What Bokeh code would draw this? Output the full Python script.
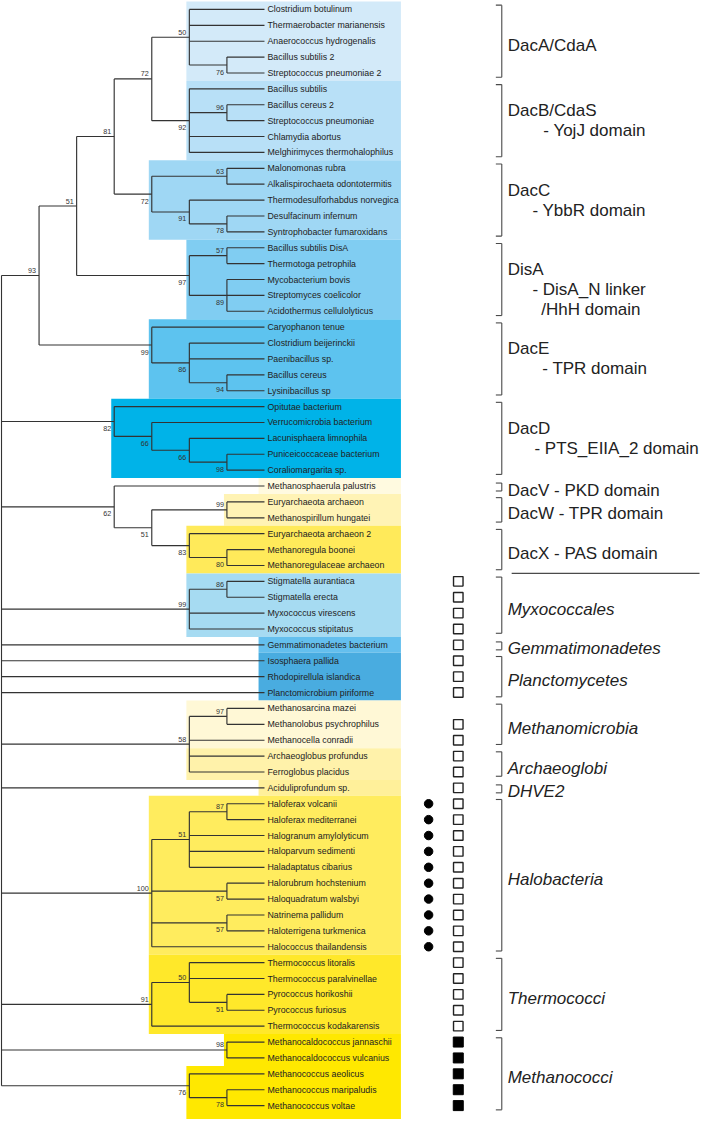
from bokeh.plotting import figure
from bokeh.models import Range1d, ColumnDataSource
from bokeh.core.properties import value
from bokeh.embed import file_html
from bokeh.resources import INLINE

# ---------------- data ----------------
leaf_names = [
    "Clostridium botulinum", "Thermaerobacter marianensis", "Anaerococcus hydrogenalis",
    "Bacillus subtilis 2", "Streptococcus pneumoniae 2",
    "Bacillus subtilis", "Bacillus cereus 2", "Streptococcus pneumoniae", "Chlamydia abortus",
    "Melghirimyces thermohalophilus",
    "Malonomonas rubra", "Alkalispirochaeta odontotermitis", "Thermodesulforhabdus norvegica",
    "Desulfacinum infernum", "Syntrophobacter fumaroxidans",
    "Bacillus subtilis DisA", "Thermotoga petrophila", "Mycobacterium bovis",
    "Streptomyces coelicolor", "Acidothermus cellulolyticus",
    "Caryophanon tenue", "Clostridium beijerinckii", "Paenibacillus sp.", "Bacillus cereus",
    "Lysinibacillus sp",
    "Opitutae bacterium", "Verrucomicrobia bacterium", "Lacunisphaera limnophila",
    "Puniceicoccaceae bacterium", "Coraliomargarita sp.",
    "Methanosphaerula palustris", "Euryarchaeota archaeon", "Methanospirillum hungatei",
    "Euryarchaeota archaeon 2", "Methanoregula boonei", "Methanoregulaceae archaeon",
    "Stigmatella aurantiaca", "Stigmatella erecta", "Myxococcus virescens", "Myxococcus stipitatus",
    "Gemmatimonadetes bacterium", "Isosphaera pallida", "Rhodopirellula islandica",
    "Planctomicrobium piriforme",
    "Methanosarcina mazei", "Methanolobus psychrophilus", "Methanocella conradii",
    "Archaeoglobus profundus", "Ferroglobus placidus",
    "Aciduliprofundum sp.",
    "Haloferax volcanii", "Haloferax mediterranei", "Halogranum amylolyticum",
    "Haloparvum sedimenti", "Haladaptatus cibarius", "Halorubrum hochstenium",
    "Haloquadratum walsbyi", "Natrinema pallidum", "Haloterrigena turkmenica",
    "Halococcus thailandensis",
    "Thermococcus litoralis", "Thermococcus paralvinellae", "Pyrococcus horikoshii",
    "Pyrococcus furiosus", "Thermococcus kodakarensis",
    "Methanocaldococcus jannaschii", "Methanocaldococcus vulcanius", "Methanococcus aeolicus",
    "Methanococcus maripaludis", "Methanococcus voltae",
]

# internal nodes: children (leaf index or node id)
node_children = {
    "root": ["n93", "dacD", "n62", "myxo", 40, 41, 42, 43, "n58", 49, "halo", "thermo", "mcaldo", "mcocc"],
    "n93": ["n51", "dacE"], "n51": ["n81", "disA"], "n81": ["n72ab", "dacC"],
    "n72ab": ["dacA", "dacB"],
    "dacA": [0, 1, 2, "n76a"], "n76a": [3, 4],
    "dacB": [5, "n96", 8, 9], "n96": [6, 7],
    "dacC": ["n63", "n91c"], "n63": [10, 11], "n91c": [12, "n78c"], "n78c": [13, 14],
    "disA": ["n57d", "n89"], "n57d": [15, 16], "n89": [17, 18, 19],
    "dacE": [20, "n86e"], "n86e": [21, 22, "n94"], "n94": [23, 24],
    "dacD": [25, "n66a"], "n66a": [26, "n66b"], "n66b": [27, "n98d"], "n98d": [28, 29],
    "n62": [30, "n51w"], "n51w": ["n99w", "n83"], "n99w": [31, 32], "n83": [33, "n80"], "n80": [34, 35],
    "myxo": ["n86m", 38, 39], "n86m": [36, 37],
    "n58": ["n97m", 46, 47, 48], "n97m": [44, 45],
    "halo": ["n51h", "n57h1", "n57h2", 59], "n51h": ["n87", 52, 53, 54], "n87": [50, 51],
    "n57h1": [55, 56], "n57h2": [57, 58],
    "thermo": ["n50t", 64], "n50t": [60, 61, "n51t"], "n51t": [62, 63],
    "mcaldo": [65, 66],
    "mcocc": [67, "n78m"], "n78m": [68, 69],
}

node_support = {
    "n93": 93, "n51": 51, "n81": 81, "n72ab": 72, "dacA": 50, "n76a": 76, "dacB": 92, "n96": 96,
    "dacC": 72, "n63": 63, "n91c": 91, "n78c": 78, "disA": 97, "n57d": 57, "n89": 89,
    "dacE": 99, "n86e": 86, "n94": 94, "dacD": 82, "n66a": 66, "n66b": 66, "n98d": 98,
    "n62": 62, "n51w": 51, "n99w": 99, "n83": 83, "n80": 80, "myxo": 99, "n86m": 86,
    "n58": 58, "n97m": 97, "halo": 100, "n51h": 51, "n87": 87, "n57h1": 57, "n57h2": 57,
    "thermo": 91, "n50t": 50, "n51t": 51, "mcaldo": 98, "mcocc": 76, "n78m": 78,
}

support_below = ["n76a", "dacB", "dacC", "n91c", "n78c", "disA", "n89", "dacE", "n86e", "n94",
                 "dacD", "n66a", "n66b", "n98d", "n62", "n51w", "n83", "n80", "n57h1", "n57h2",
                 "n51t", "mcocc", "n78m"]

# coloured clade boxes
box_first = [0, 5, 10, 15, 20, 25, 30, 31, 33, 36, 40, 41, 44, 47, 49, 50, 60, 65, 67]
box_last = [4, 9, 14, 19, 24, 29, 30, 32, 35, 39, 40, 43, 46, 48, 49, 59, 64, 66, 69]
box_anchor = ["dacA", "dacB", "dacC", "disA", "dacE", "dacD", None, "n99w", "n83", "myxo",
              None, None, "n58", "n58", None, "halo", "thermo", "mcaldo", "mcocc"]
box_colors = ["#d3eaf9", "#b8e0f7", "#9fd7f4", "#80cdf2", "#5dc3ef", "#00b3e8",
              "#fffae0", "#fff3b5", "#ffea5a", "#a6dbf2", "#64bfee", "#49ace0",
              "#fff8d6", "#fff2aa", "#fff09a", "#ffec5e", "#ffe82a", "#ffe800", "#ffe800"]

# right-hand group labels
group_names = ["DacA/CdaA", "DacB/CdaS", "DacC", "DisA", "DacE", "DacD",
               "DacV - PKD domain", "DacW - TPR domain", "DacX - PAS domain",
               "Myxococcales", "Gemmatimonadetes", "Planctomycetes", "Methanomicrobia",
               "Archaeoglobi", "DHVE2", "Halobacteria", "Thermococci", "Methanococci"]
group_sublines = [[], ["- YojJ domain"], ["- YbbR domain"], ["- DisA_N linker", "/HhH domain"],
                  ["- TPR domain"], ["- PTS_EIIA_2 domain"], [], [], [],
                  [], [], [], [], [], [], [], [], []]
group_first = [0, 5, 10, 15, 20, 25, 30, 31, 33, 36, 40, 41, 44, 47, 49, 50, 60, 65]
group_last = [4, 9, 14, 19, 24, 29, 30, 32, 35, 39, 40, 43, 46, 48, 49, 59, 64, 69]
group_italic = [False] * 9 + [True] * 9

# per-leaf markers
circle_leaves = [50, 51, 52, 53, 54, 55, 56, 57, 58, 59]
open_square_leaves = [36, 37, 38, 39, 40, 41, 42, 43, 45, 46, 47, 48, 49, 50, 51, 52, 53, 54,
                      55, 56, 57, 58, 59, 60, 61, 62, 63, 64]
filled_square_leaves = [65, 66, 67, 68, 69]

# ---------------- layout helpers ----------------
STEP, ROW, X0, Y0 = 38.0, 16.0, 1.0, 9.0


def lx(px):
    return (px - X0) / STEP


def dy(px):
    return px / ROW


def ly(py):
    return (py - Y0) / ROW


def height(n):
    if isinstance(n, int):
        return 0
    return 1 + max(height(c) for c in node_children[n])


H = height("root")


def xl(n):
    return H - height(n)


def yl(n):
    if isinstance(n, int):
        return float(n)
    ch = node_children[n]
    return (yl(ch[0]) + yl(ch[-1])) / 2.0


FONT = value("Liberation Sans")
Y_BOTTOM = ly(1127)

p = figure(width=701, height=1119, x_range=Range1d(lx(0), lx(709)),
           y_range=Range1d(Y_BOTTOM, ly(0)), output_backend="svg",
           toolbar_location=None, min_border=0, x_axis_location=None, y_axis_location=None)
p.grid.visible = False
p.outline_line_color = None
p.background_fill_color = "white"

# boxes
lefts = []
for a in box_anchor:
    if a is None:
        lefts.append(lx(261))
    else:
        lefts.append(xl(a) - 3.0 / STEP)
bottoms = [l + 0.5 for l in box_last]
bottoms[-1] = Y_BOTTOM  # last box runs to the lower edge
p.quad(left=lefts, right=[lx(405)] * len(lefts),
       top=[f - 0.5 for f in box_first], bottom=bottoms,
       fill_color=box_colors, line_color=None)

# tree segments
x0s, y0s, x1s, y1s = [], [], [], []
sx, sy, st, soff = [], [], [], []
for n, ch in node_children.items():
    xn = xl(n)
    x0s.append(xn); y0s.append(yl(ch[0])); x1s.append(xn); y1s.append(yl(ch[-1]))
    for c in ch:
        x0s.append(xn); y0s.append(yl(c)); x1s.append(xl(c)); y1s.append(yl(c))
    if n in node_support:
        sx.append(xn); sy.append(yl(n)); st.append(str(node_support[n]))
        soff.append(7 if n in support_below else -5)
p.segment(x0=x0s, y0=y0s, x1=x1s, y1=y1s, line_color="#333333", line_width=1.15)

src = ColumnDataSource(dict(x=sx, y=sy, t=st, off=soff))
p.text(x="x", y="y", text="t", source=src, x_offset=-3, y_offset="off",
       text_align="right", text_baseline="middle", text_font=FONT,
       text_font_size=value("7.2px"), text_color="#333333")

# leaf labels
p.text(x=[float(H)] * len(leaf_names), y=list(range(len(leaf_names))), text=leaf_names,
       x_offset=3, text_align="left", text_baseline="middle", text_font=FONT,
       text_font_size=value("8.8px"), text_color="#222222")

# markers
p.scatter(x=[lx(433)] * len(circle_leaves), y=circle_leaves, marker="circle", size=8.5,
          fill_color="black", line_color="black")
p.scatter(x=[lx(463)] * len(open_square_leaves), y=open_square_leaves, marker="square",
          size=9.5, fill_color="white", line_color="#222222", line_width=1.4)
p.scatter(x=[lx(463)] * len(filled_square_leaves), y=filled_square_leaves, marker="square",
          size=10, fill_color="black", line_color="black")

# brackets and group labels
bx0, by0, bx1, by1 = [], [], [], []
indents = {"- YojJ domain": 549, "- YbbR domain": 538, "- DisA_N linker": 538,
           "/HhH domain": 547, "- TPR domain": 548, "- PTS_EIIA_2 domain": 540}
tx, ty, tt, toff, tstyle = [], [], [], [], []
for name, subs, f, l, it in zip(group_names, group_sublines, group_first, group_last, group_italic):
    if f == l:
        top, bot = f - dy(3), l + dy(5)
    else:
        top, bot = f - dy(4.3), l + dy(4.3)
    vx = lx(507)
    bx0 += [vx, lx(501), lx(501)]
    by0 += [top, top, bot]
    bx1 += [vx, vx, vx]
    by1 += [bot, top, bot]
    mid = (f + l) / 2.0
    if subs:
        tx.append(lx(513)); ty.append(mid); tt.append(name); toff.append(-10)
        tstyle.append("italic" if it else "normal")
        for k, s in enumerate(subs):
            tx.append(lx(indents[s])); ty.append(mid); tt.append(s); toff.append(10 + 20 * k)
            tstyle.append("normal")
    else:
        tx.append(lx(513)); ty.append(mid); tt.append(name); toff.append(4)
        tstyle.append("italic" if it else "normal")
p.segment(x0=bx0, y0=by0, x1=bx1, y1=by1, line_color="#4a4a4a", line_width=1.1)

gsrc = ColumnDataSource(dict(x=tx, y=ty, t=tt, off=toff, st=tstyle))
p.text(x="x", y="y", text="t", source=gsrc, y_offset="off", text_font_style="st",
       text_align="left", text_baseline="middle", text_font=FONT,
       text_font_size=value("17px"), text_color="#222222")

# separator between domain groups and taxonomic groups
sep_y = (group_last[8] + group_first[9]) / 2.0
p.segment(x0=[lx(517)], y0=[sep_y], x1=[lx(707)], y1=[sep_y], line_color="#4a4a4a", line_width=1.1)

open("out.html", "w").write(file_html(p, INLINE))
